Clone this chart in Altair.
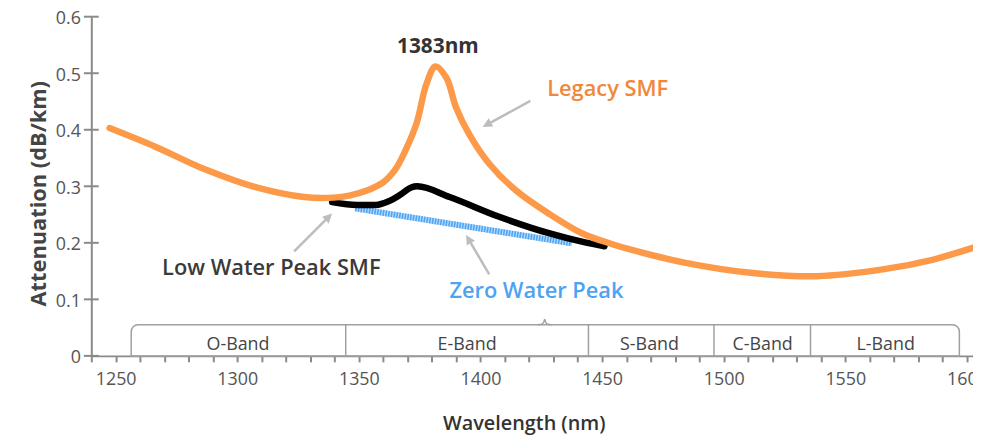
import altair as alt
import pandas as pd
import numpy as np

# ---------------- data ----------------
legacy_nm = [1247.5, 1266.3, 1286.7, 1307.1, 1327.5, 1339.7, 1346.5, 1353.0, 1360.0, 1365.0,
             1369.0, 1373.7, 1377.8, 1381.5, 1386.0, 1390.0, 1395.4, 1403.6, 1414.5, 1428.0,
             1441.7, 1453.9, 1463.4, 1483.8, 1511.0, 1538.2, 1565.4, 1585.8, 1603.0]
legacy_att = [0.403, 0.370, 0.330, 0.299, 0.281, 0.280, 0.284, 0.292, 0.307, 0.330,
              0.362, 0.411, 0.481, 0.512, 0.492, 0.439, 0.392, 0.340, 0.293, 0.252,
              0.217, 0.198, 0.186, 0.165, 0.147, 0.141, 0.153, 0.170, 0.192]

lwp_nm = [1339.0, 1349.2, 1357.0, 1362.0, 1367.0, 1371.5, 1374.0, 1387.3, 1407.7, 1428.1, 1441.7, 1451.0]
lwp_att = [0.272, 0.267, 0.267, 0.273, 0.285, 0.298, 0.300, 0.281, 0.246, 0.217, 0.202, 0.194]

zwp_nm = [1348.5, 1437.6]
zwp_att = [0.261, 0.199]

band_names = ["O-Band", "E-Band", "S-Band", "C-Band", "L-Band"]
band_label_nm = [1300.3, 1394.5, 1469.5, 1516.0, 1566.6]
band_edges = [1256.4, 1344.6, 1444.4, 1496.0, 1535.7, 1596.9]
band_top = 0.055
band_label_att = 0.019
brace_nm = [1426.4]

x_tick_values = list(range(1240, 1601, 10))
y_tick_values = [0, 0.1, 0.2, 0.3, 0.4, 0.5, 0.6]

note_text = ["1383nm", "Legacy SMF", "Low Water Peak SMF", "Zero Water Peak"]
note_nm = [1382.5, 1452.3, 1314.0, 1423.0]
note_att = [0.547, 0.472, 0.156, 0.114]
note_color = ["#333333", "#f0883a", "#3a3a3a", "#4da3f2"]
note_weight = [700, 600, 600, 600]

arrow_tail_nm = [1420.5, 1323.4, 1403.6]
arrow_tail_att = [0.451, 0.185, 0.144]
arrow_tip_nm = [1400.9, 1339.0, 1394.1]
arrow_tip_att = [0.405, 0.252, 0.214]

# ---------------- layout ----------------
W, H = 889, 342
X_DOMAIN = [1240, 1602.5]
Y_DOMAIN = [0, 0.6]
FONT = "Open Sans"
AXIS_GRAY = "#8a8a8a"
px_nm = W / (X_DOMAIN[1] - X_DOMAIN[0])
px_att = H / (Y_DOMAIN[1] - Y_DOMAIN[0])

x_scale = alt.Scale(domain=X_DOMAIN, nice=False, zero=False)
y_scale = alt.Scale(domain=Y_DOMAIN, nice=False, zero=False)

x_axis = alt.Axis(
    values=x_tick_values, format="d",
    labelExpr="datum.value % 50 == 0 ? datum.label : ''",
    labelOverlap=False, labelFlush=False, labelBound=False,
    domainColor=AXIS_GRAY, domainWidth=2, tickColor=AXIS_GRAY, tickWidth=2, tickSize=6,
    labelFont=FONT, labelFontSize=18, labelColor="#555555", labelPadding=9,
    titleFont=FONT, titleFontSize=20, titleFontWeight=600, titleColor="#333333",
    titlePadding=25, titleX=436, grid=False,
)
y_axis = alt.Axis(
    values=y_tick_values,
    labelExpr="datum.value == 0 ? '0' : format(datum.value, '.1f')",
    labelOverlap=False, labelFlush=False, labelBound=False, labelOffset=2,
    domainColor=AXIS_GRAY, domainWidth=2, ticks=False,
    labelFont=FONT, labelFontSize=18, labelColor="#555555", labelPadding=11,
    titleFont=FONT, titleFontSize=22, titleFontWeight="bold", titleColor="#444444",
    titlePadding=5, titleY=178, grid=False,
)


def X(field="nm"):
    return alt.X(f"{field}:Q", scale=x_scale, axis=x_axis, title="Wavelength (nm)")


def Y(field="att"):
    return alt.Y(f"{field}:Q", scale=y_scale, axis=y_axis, title="Attenuation (dB/km)")


# ---------------- frames ----------------
legacy_df = pd.DataFrame({"nm": legacy_nm, "att": legacy_att})
lwp_df = pd.DataFrame({"nm": lwp_nm, "att": lwp_att})
zwp_df = pd.DataFrame({"nm": zwp_nm, "att": zwp_att})
box_df = pd.DataFrame({"nm": [band_edges[0]], "nm2": [band_edges[-1]], "att": [band_top], "att2": [0.0]})
div_df = pd.DataFrame({"nm": band_edges[1:-1], "att": [band_top] * 4, "att2": [0.0] * 4})
band_df = pd.DataFrame({"nm": band_label_nm, "att": [band_label_att] * 5, "label": band_names})
brace_df = pd.DataFrame({"nm": brace_nm, "att": [band_top]})
note_df = pd.DataFrame({"nm": note_nm, "att": note_att, "label": note_text,
                        "color": note_color, "weight": note_weight})
ytick_df = pd.DataFrame({"att": y_tick_values})

tail = np.array([arrow_tail_nm, arrow_tail_att], dtype=float)
tip = np.array([arrow_tip_nm, arrow_tip_att], dtype=float)
dx_px = (tip[0] - tail[0]) * px_nm
dy_px = -(tip[1] - tail[1]) * px_att
length = np.hypot(dx_px, dy_px)
angle = np.degrees(np.arctan2(dx_px, -dy_px)) % 360
back = 6.0
shaft_end_nm = tip[0] - dx_px / length * back / px_nm
shaft_end_att = tip[1] + dy_px / length * back / px_att
shaft_df = pd.DataFrame({"nm": tail[0], "att": tail[1], "nm2": shaft_end_nm, "att2": shaft_end_att})
head_df = pd.DataFrame({"nm": tip[0], "att": tip[1], "angle": angle})

# ---------------- layers ----------------
box = alt.Chart(box_df).mark_rect(
    fill="white", fillOpacity=0, stroke="#a0a0a0", strokeWidth=1.5,
    cornerRadiusTopLeft=7, cornerRadiusTopRight=7
).encode(x=X(), x2="nm2", y=Y(), y2="att2")

dividers = alt.Chart(div_df).mark_rule(color="#a0a0a0", strokeWidth=1.5).encode(
    x=X(), y=Y(), y2="att2")

band_text = alt.Chart(band_df).mark_text(
    font=FONT, fontSize=18, color="#444444", baseline="middle", align="center"
).encode(x=X(), y=Y(), text="label:N")

brace = alt.Chart(brace_df).mark_point(
    shape="M-1,0 C-0.4,0 -0.12,-0.1 0,-0.8 C0.12,-0.1 0.4,0 1,0",
    size=196, filled=False, stroke="#a0a0a0", strokeWidth=1.5, opacity=1
).encode(x=X(), y=Y())

zwp_base = alt.Chart(zwp_df).mark_line(color="#b5dafc", strokeWidth=6).encode(x=X(), y=Y())
zwp_dash = alt.Chart(zwp_df).mark_line(
    color="#4ea5f5", strokeWidth=6, strokeDash=[1.6, 1.2]
).encode(x=X(), y=Y())

lwp = alt.Chart(lwp_df).mark_line(
    color="#000000", strokeWidth=6.5, interpolate="monotone", strokeCap="round"
).encode(x=X(), y=Y())

legacy = alt.Chart(legacy_df).mark_line(
    color="#fd9a4a", strokeWidth=6.5, interpolate="catmull-rom", strokeCap="round"
).encode(x=X(), y=Y())

shafts = alt.Chart(shaft_df).mark_rule(color="#bdbdbd", strokeWidth=2.5).encode(
    x=X(), y=Y(), x2="nm2", y2="att2")

heads = alt.Chart(head_df).mark_point(
    shape="M0,0 L0.5,1 L-0.5,1 Z", size=360, filled=True, color="#bdbdbd", opacity=1
).encode(x=X(), y=Y(), angle=alt.Angle("angle:Q", scale=None))

notes_bold = alt.Chart(note_df[note_df["weight"] == 700]).mark_text(
    font=FONT, fontSize=21, fontWeight="bold", baseline="middle", align="center"
).encode(x=X(), y=Y(), text="label:N", color=alt.Color("color:N", scale=None))
notes_reg = alt.Chart(note_df[note_df["weight"] != 700]).mark_text(
    font=FONT, fontSize=22, fontWeight=600, baseline="middle", align="center"
).encode(x=X(), y=Y(), text="label:N", color=alt.Color("color:N", scale=None))

yticks = alt.Chart(ytick_df).mark_tick(
    orient="horizontal", size=15, thickness=2, color=AXIS_GRAY, opacity=1
).encode(y=Y(), x=alt.value(0))

chart = alt.layer(
    box, dividers, band_text, brace, zwp_base, zwp_dash, lwp, legacy,
    shafts, heads, notes_bold, notes_reg, yticks
).properties(
    width=W, height=H,
    autosize=alt.AutoSizeParams(type="none"),
    padding={"left": 84, "top": 7, "right": 0, "bottom": 78},
    background="white",
).configure_view(stroke=None)

chart.save("out.html", embed_options={"renderer": "svg", "actions": False})
